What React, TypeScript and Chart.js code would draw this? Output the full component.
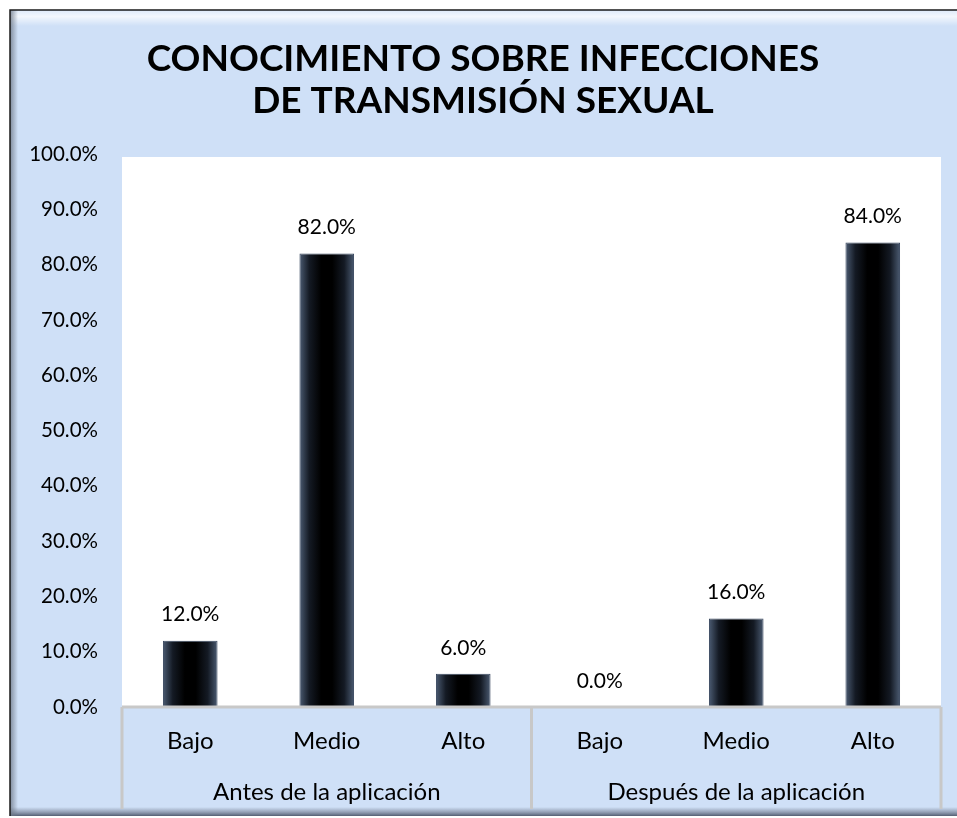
import React, { useEffect, useRef } from "react";
import { Chart, registerables } from "chart.js";

Chart.register(...registerables);

const TITLE_LINES = ["CONOCIMIENTO SOBRE INFECCIONES", "DE TRANSMISIÓN SEXUAL"];
const LEVELS = ["Bajo", "Medio", "Alto", "Bajo", "Medio", "Alto"];
const GROUPS = ["Antes de la aplicación", "Después de la aplicación"];
const GROUP_SIZE = 3;
const VALUES = [12.0, 82.0, 6.0, 0.0, 16.0, 84.0];
const Y_MIN = 0;
const Y_MAX = 100;
const Y_STEP = 10;

const FONT = "Lato, 'Open Sans', sans-serif";
const BG_BLUE = "#cfe0f7";
const AXIS_GRAY = "#c8c8c8";

const framePlugin = {
  id: "frame",
  beforeDraw(chart: any) {
    const { ctx, width, height, chartArea } = chart;
    ctx.save();
    ctx.fillStyle = "#ffffff";
    ctx.fillRect(0, 0, width, height);
    const x0 = 10, y0 = 10, x1 = width, y1 = height - 2;
    ctx.fillStyle = BG_BLUE;
    ctx.fillRect(x0, y0, x1 - x0, y1 - y0);
    let g = ctx.createLinearGradient(0, y0, 0, y0 + 16);
    g.addColorStop(0, "rgba(255,255,255,0.3)");
    g.addColorStop(0.4, "rgba(255,255,255,0.75)");
    g.addColorStop(1, "rgba(255,255,255,0)");
    ctx.fillStyle = g;
    ctx.fillRect(x0, y0, x1 - x0, 16);
    g = ctx.createLinearGradient(0, y1 - 9, 0, y1);
    g.addColorStop(0, "rgba(120,130,150,0)");
    g.addColorStop(0.5, "rgba(120,130,150,0.6)");
    g.addColorStop(1, "rgba(70,80,100,0.9)");
    ctx.fillStyle = g;
    ctx.fillRect(x0, y1 - 9, x1 - x0, 9);
    g = ctx.createLinearGradient(x0, 0, x0 + 8, 0);
    g.addColorStop(0, "rgba(110,120,135,0.8)");
    g.addColorStop(1, "rgba(110,120,135,0)");
    ctx.fillStyle = g;
    ctx.fillRect(x0, y0, 8, y1 - y0);
    ctx.strokeStyle = "#1a1a1a";
    ctx.lineWidth = 1.5;
    ctx.beginPath();
    ctx.moveTo(x0, y1);
    ctx.lineTo(x0, y0);
    ctx.lineTo(x1, y0);
    ctx.stroke();
    ctx.fillStyle = "#ffffff";
    ctx.fillRect(chartArea.left, chartArea.top + 3, chartArea.right - chartArea.left, chartArea.bottom - chartArea.top - 3);
    ctx.fillStyle = "#000000";
    ctx.font = `bold 37px ${FONT}`;
    ctx.textAlign = "center";
    ctx.textBaseline = "middle";
    TITLE_LINES.forEach((t, i) => ctx.fillText(t, 483, 59 + i * 42));
    ctx.restore();
  },
  afterDraw(chart: any) {
    const { ctx, chartArea, scales } = chart;
    const xs = scales.x;
    const bottom = chart.height - 9;
    const step = (chartArea.right - chartArea.left) / LEVELS.length;
    ctx.save();
    ctx.strokeStyle = AXIS_GRAY;
    ctx.lineWidth = 3;
    ctx.beginPath();
    ctx.moveTo(chartArea.left, chartArea.bottom);
    ctx.lineTo(chartArea.right, chartArea.bottom);
    for (let gi = 0; gi <= GROUPS.length; gi++) {
      const idx = gi * GROUP_SIZE;
      const x = idx === 0 ? chartArea.left : idx >= LEVELS.length ? chartArea.right : xs.getPixelForValue(idx) - step / 2;
      ctx.moveTo(x, chartArea.bottom);
      ctx.lineTo(x, bottom);
    }
    ctx.stroke();
    ctx.fillStyle = "#000000";
    ctx.font = `24px ${FONT}`;
    ctx.textAlign = "center";
    ctx.textBaseline = "middle";
    GROUPS.forEach((gname, gi) => {
      const a = xs.getPixelForValue(gi * GROUP_SIZE);
      const b = xs.getPixelForValue(gi * GROUP_SIZE + GROUP_SIZE - 1);
      ctx.fillText(gname, (a + b) / 2, 792);
    });
    ctx.font = `21px ${FONT}`;
    const meta = chart.getDatasetMeta(0);
    meta.data.forEach((bar: any, i: number) => {
      ctx.fillText(VALUES[i].toFixed(1) + "%", bar.x, bar.y - 26);
    });
    ctx.restore();
  },
};

function barFill(c: any) {
  const chart = c.chart;
  const xs = chart.scales && chart.scales.x;
  if (!xs || c.dataIndex === undefined) return "#000";
  const cx = xs.getPixelForValue(c.dataIndex);
  const w = (xs.width / LEVELS.length) * 0.4;
  if (!isFinite(cx) || !isFinite(w) || w <= 0) return "#000";
  const g = chart.ctx.createLinearGradient(cx - w / 2, 0, cx + w / 2, 0);
  g.addColorStop(0, "#4b5b72");
  g.addColorStop(0.18, "#141a24");
  g.addColorStop(0.4, "#000000");
  g.addColorStop(0.6, "#000000");
  g.addColorStop(0.82, "#141a24");
  g.addColorStop(1, "#4b5b72");
  return g;
}

export default function App() {
  const ref = useRef<HTMLCanvasElement>(null);
  useEffect(() => {
    if (!ref.current) return;
    const chart = new Chart(ref.current, {
      type: "bar",
      data: {
        labels: LEVELS,
        datasets: [
          {
            data: VALUES,
            backgroundColor: barFill as any,
            borderColor: "#3a4960",
            borderWidth: 1,
            barPercentage: 0.4,
            categoryPercentage: 1,
          },
        ],
      },
      options: {
        responsive: false,
        animation: false,
        layout: { padding: { left: 10, right: 16, top: 154, bottom: 9 } },
        plugins: { legend: { display: false }, tooltip: { enabled: false }, title: { display: false } },
        scales: {
          x: {
            grid: { display: false, drawTicks: false },
            border: { display: false },
            ticks: { color: "#000", font: { family: FONT, size: 24 }, padding: 20 },
            afterFit: (s: any) => { s.height = 102; },
          },
          y: {
            min: Y_MIN,
            max: Y_MAX,
            ticks: {
              stepSize: Y_STEP,
              color: "#000",
              font: { family: FONT, size: 20.5 },
              padding: 24,
              callback: (v: any) => Number(v).toFixed(1) + "%",
            },
            grid: { display: false, drawTicks: false },
            border: { display: false },
            afterFit: (s: any) => { s.width = 112; },
          },
        },
      },
      plugins: [framePlugin],
    });
    chart.update();
    return () => chart.destroy();
  }, []);
  return (
    <div style={{ position: "fixed", left: 0, top: 0, width: 957, height: 818 }}>
      <canvas ref={ref} width={957} height={818} style={{ display: "block" }} />
    </div>
  );
}
